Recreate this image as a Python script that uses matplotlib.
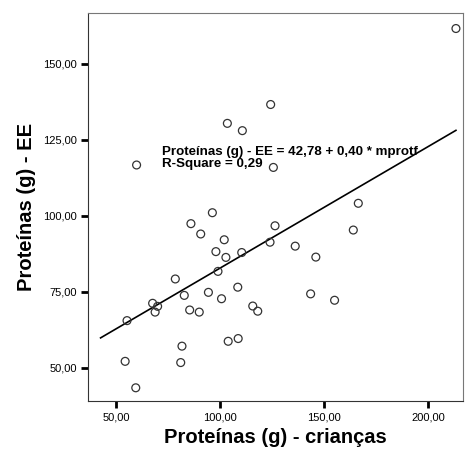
import matplotlib
matplotlib.use('Agg')
import matplotlib.pyplot as plt
import numpy as np

# Proteínas (g) - crianças vs Proteínas (g) - EE
prot_criancas = [213.3, 124.3, 103.5, 110.7, 59.9, 125.6, 96.3, 86.0, 90.7, 102.0,
                 126.4, 166.4, 164.0, 98.0, 102.8, 110.4, 124.0, 136.1, 146.0, 99.0,
                 78.5, 108.5, 82.8, 94.4, 100.7, 67.6, 70.0, 68.8, 85.4, 90.0,
                 115.7, 118.1, 143.5, 155.0, 55.3, 81.7, 81.1, 103.9, 108.7, 54.4,
                 59.5]
prot_ee = [161.6, 136.6, 130.4, 128.0, 116.7, 115.9, 101.0, 97.4, 94.0, 92.1,
           96.7, 104.1, 95.3, 88.2, 86.3, 87.9, 91.3, 90.0, 86.4, 81.7,
           79.2, 76.5, 73.8, 74.8, 72.7, 71.2, 70.2, 68.3, 69.0, 68.3,
           70.3, 68.6, 74.3, 72.2, 65.5, 57.1, 51.7, 58.7, 59.6, 52.1,
           43.4]

intercept = 42.78
slope = 0.40
fit_x_range = [42.6, 213.3]

x_ticks = [50, 100, 150, 200]
x_ticklabels = ['50,00', '100,00', '150,00', '200,00']
y_ticks = [50, 75, 100, 125, 150]
y_ticklabels = ['50,00', '75,00', '100,00', '125,00', '150,00']

plt.rcParams['font.family'] = ['Liberation Sans', 'DejaVu Sans']

fig = plt.figure(figsize=(4.66, 4.65), dpi=100)
ax = fig.add_axes([0.1888, 0.1376, 0.8048, 0.8344])

ax.scatter(prot_criancas, prot_ee, s=32, facecolors='none',
           edgecolors='#333333', linewidths=0.9, zorder=3)

fx = np.array(fit_x_range)
ax.plot(fx, intercept + slope * fx, color='black', linewidth=1.2, zorder=2)

ax.text(72.1, 121.0, 'Proteínas (g) - EE = 42,78 + 0,40 * mprotf',
        fontsize=9.6, fontweight='bold', va='center', ha='left')
ax.text(72.1, 117.0, 'R-Square = 0,29',
        fontsize=9.6, fontweight='bold', va='center', ha='left')

ax.set_xlim(36.55, 216.7)
ax.set_ylim(39.05, 166.7)

ax.set_xticks(x_ticks)
ax.set_xticklabels(x_ticklabels)
ax.set_yticks(y_ticks)
ax.set_yticklabels(y_ticklabels)
ax.tick_params(direction='out', length=5, width=2, labelsize=8, pad=3,
               color='black')

for side in ['left', 'bottom']:
    ax.spines[side].set_color('#333333')
    ax.spines[side].set_linewidth(0.8)
for side in ['top', 'right']:
    ax.spines[side].set_color('#777777')
    ax.spines[side].set_linewidth(0.8)

ax.set_xlabel('Proteínas (g) - crianças', fontsize=14.5, fontweight='bold',
              labelpad=4)
ax.set_ylabel('Proteínas (g) - EE', fontsize=14.5, fontweight='bold',
              labelpad=5)

fig.savefig('out.png', dpi=100)
